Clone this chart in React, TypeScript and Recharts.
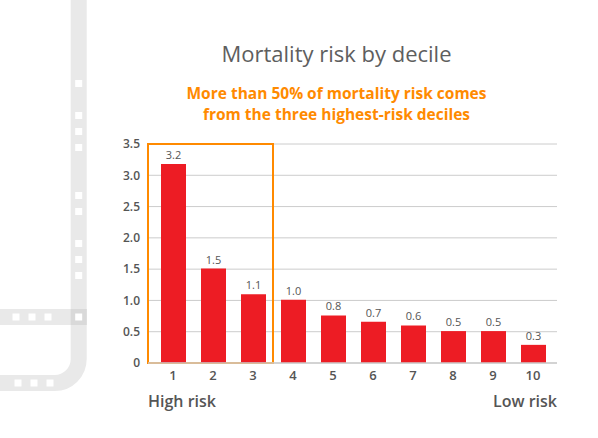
import React from 'react';
import { BarChart, Bar, XAxis, YAxis, CartesianGrid, LabelList, ReferenceArea } from 'recharts';

const deciles = ['1', '2', '3', '4', '5', '6', '7', '8', '9', '10'];
const riskValues = [3.18, 1.51, 1.1, 1.01, 0.76, 0.66, 0.6, 0.51, 0.51, 0.29];
const yTicks = [0, 0.5, 1, 1.5, 2, 2.5, 3, 3.5];
const highlightFrom = '1';
const highlightTo = '3';

const titleText = 'Mortality risk by decile';
const subtitleLines = ['More than 50% of mortality risk comes', 'from the three highest-risk deciles'];
const leftEndLabel = 'High risk';
const rightEndLabel = 'Low risk';

const data = deciles.map((d, i) => ({ decile: d, risk: riskValues[i] }));

const FONT = '"Open Sans", "Noto Sans", sans-serif';
const PAD_LEFT = 5;
const PAD_RIGHT = 4;
const TEXT_COLOR = '#555555';
const ORANGE = '#ff8a00';
const RED = '#ed1c24';
const GRID = '#cccccc';
const BAND = '#e9e9e9';

const BoxShape = (p: any) => (
  <rect
    x={p.x - PAD_LEFT}
    y={p.y}
    width={p.width + PAD_LEFT}
    height={p.height}
    fill="none"
    stroke={ORANGE}
    strokeWidth={2}
  />
);

const vSquares = [80, 112, 128, 144, 192, 208, 240, 256, 272];
const hSquares = [12.5, 28.5, 44.5];
const bSquares = [14.5, 30.5, 46.5];

export default function App() {
  return (
    <div style={{ position: 'absolute', left: 0, top: 0, width: 598, height: 438, background: '#fff', fontFamily: FONT }}>
      <svg width={598} height={438} style={{ position: 'absolute', left: 0, top: 0 }}>
        <path d="M 78.7 -5 L 78.7 359 A 24 24 0 0 1 54.7 383 L -5 383" stroke={BAND} strokeWidth={16} fill="none" />
        <rect x={0} y={309} width={86.7} height={16} fill={BAND} />
        <rect x={70.7} y={309} width={16} height={16} fill="#d9d9d9" />
        {vSquares.map((y) => (
          <rect key={'v' + y} x={75.2} y={y} width={7} height={7} fill="#fff" />
        ))}
        <rect x={75.2} y={313.5} width={7} height={7} fill="#fff" />
        {hSquares.map((x) => (
          <rect key={'h' + x} x={x} y={313.5} width={7} height={7} fill="#fff" />
        ))}
        {bSquares.map((x) => (
          <rect key={'b' + x} x={x} y={379.5} width={7} height={7} fill="#fff" />
        ))}
        <text x={336.5} y={61.5} textAnchor="middle" fontSize={22} fontWeight={500} fill="#5e5e5e" fontFamily={FONT}>
          {titleText}
        </text>
        {subtitleLines.map((line, i) => (
          <text key={i} x={336.5} y={99 + i * 20.5} textAnchor="middle" fontSize={15.5} fontWeight={700} fill={ORANGE} fontFamily={FONT}>
            {line}
          </text>
        ))}
        <text x={148} y={407} fontSize={16} fontWeight={600} fill={TEXT_COLOR} fontFamily={FONT}>
          {leftEndLabel}
        </text>
        <text x={557} y={407} textAnchor="end" fontSize={16} fontWeight={600} fill={TEXT_COLOR} fontFamily={FONT}>
          {rightEndLabel}
        </text>
      </svg>
      <div style={{ position: 'absolute', left: 0, top: 0 }}>
        <BarChart
          width={598}
          height={438}
          data={data}
          margin={{ top: 144, right: 41, bottom: 45, left: 100 }}
          style={{ fontFamily: FONT }}
        >
          <CartesianGrid vertical={false} stroke={GRID} />
          <XAxis
            dataKey="decile"
            padding={{ left: PAD_LEFT, right: PAD_RIGHT }}
            tickLine={false}
            axisLine={{ stroke: GRID, strokeWidth: 1.5 }}
            tick={{ fontSize: 13, fontWeight: 600, fill: TEXT_COLOR, fontFamily: FONT }}
            height={30}
            interval={0}
          />
          <YAxis
            domain={[0, 3.5]}
            ticks={yTicks}
            width={48}
            axisLine={false}
            tickLine={false}
            tickFormatter={(v: number) => (v === 0 ? '0' : v.toFixed(1))}
            tick={{ fontSize: 12, fontWeight: 600, fill: TEXT_COLOR, fontFamily: FONT }}
          />
          <Bar dataKey="risk" fill={RED} barSize={25} isAnimationActive={false}>
            <LabelList
              dataKey="risk"
              position="top"
              offset={5}
              formatter={(v: any) => Number(v).toFixed(1)}
              style={{ fontSize: 11, fill: TEXT_COLOR, fontFamily: FONT }}
            />
          </Bar>
          <ReferenceArea
            x1={highlightFrom}
            x2={highlightTo}
            y1={0}
            y2={3.5}
            shape={BoxShape}
            ifOverflow="visible"
          />
        </BarChart>
      </div>
    </div>
  );
}
